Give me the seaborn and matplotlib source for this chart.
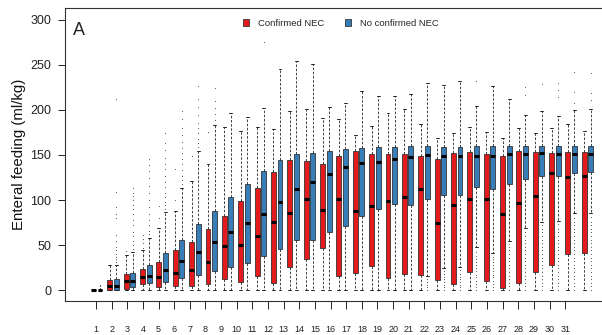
import numpy as np
import matplotlib
matplotlib.use("Agg")
import matplotlib.pyplot as plt
from matplotlib.patches import Patch
import seaborn as sns

# Days on the x axis
days = list(range(1, 32))

# Confirmed NEC (red): box stats per day
nec_q1 = [0, 0, 1.5, 6.3, 3, 4.8, 4.8, 6.3, 11.9, 9.3, 15.6, 8, 26, 35, 47, 15.6,
          18.5, 26.7, 13, 17.4, 16.3, 11.1, 6.7, 20, 10, 1.9, 7.4, 19.6, 27.8, 40, 40.7]
nec_med = [0, 4.8, 10, 14, 14.4, 18.5, 22.6, 31.5, 49, 50, 60, 76, 86, 100.7, 89, 100.7,
           87.8, 93, 98.5, 103, 111.9, 74.4, 94.1, 100.7, 100.7, 84.8, 96.3, 104.4, 130.4, 125.9, 126.7]
nec_q3 = [0, 11, 17.8, 22.9, 31, 44, 53, 67.8, 82.2, 99, 113.7, 130.7, 144.8, 143.7, 140, 149,
          154.4, 151.5, 150.7, 151, 149, 145.2, 151.9, 153.3, 151.1, 148.5, 154.8, 153.7, 152.2, 153.7, 153]
nec_lo = [0] * 31
nec_hi = [0, 27.8, 38.9, 44.4, 68.5, 87.8, 121, 139.6, 180.7, 177, 180.7, 178.5, 199, 201, 191.5, 190,
          172, 182, 196.7, 201.5, 184.8, 169.3, 174.1, 181.1, 175.6, 169.3, 180.4, 174.1, 180.4, 184, 176.7]
nec_out = [[], [], [43], [47, 52, 57, 61], [80, 93.7], [100, 134], [149], [176]] + [[] for _ in range(23)]

# No confirmed NEC (blue)
ctl_q1 = [0, 0, 3.7, 7.4, 9.3, 13.7, 17, 21, 26, 29.6, 37.8, 45.6, 55.6, 55.6, 64, 71,
          82, 90, 95.6, 95, 100.7, 105.2, 105.2, 114, 112.2, 117.8, 123.3, 126.3, 127, 130, 130.7]
ctl_med = [0, 4.8, 10, 15.2, 22.2, 32.2, 42, 52.9, 64, 74, 85, 98, 112, 120, 129, 136.7,
           141.5, 142.6, 145.6, 147.4, 150, 148.5, 148.5, 149.3, 149.3, 151.5, 151.1, 151.9, 151.5, 151.5, 150.7]
ctl_q3 = [0, 11.9, 19.3, 27.8, 40.7, 55.6, 73, 87.8, 103, 118.1, 132, 144, 151, 152.6, 154.4, 156.7,
          157.8, 158.9, 158.9, 159.6, 160, 159.3, 159.3, 160.4, 160, 160.4, 160.4, 160.4, 160.4, 160.4, 160.4]
ctl_lo = [0] * 20 + [15.6, 24.8, 25.9, 47.4, 40.7, 54.8, 68.5, 75.9, 77, 86, 86]
ctl_hi = [0, 27.8, 41.9, 58.1, 86.3, 113.7, 154, 183, 196.7, 192, 202, 246, 254, 250.7, 203.7, 207.4,
          220.7, 215, 216, 217.4, 229.6, 227.4, 232.2, 204, 226.3, 212.6, 194.4, 198.5, 193, 200, 200.7]
ctl_out = [
    [2, 4, 6],
    [31, 34, 37, 40, 44, 48, 55, 61, 79.6, 85, 92.6, 108.5, 211.8],
    [46, 50, 55, 60, 65, 72, 78, 85, 90, 95, 100, 104, 108, 113],
    [62, 66, 72, 78, 85, 92, 100, 108, 116, 124, 132, 139, 146],
    [90, 94, 98, 103, 108, 114, 120, 127, 134, 140, 147, 155, 163, 174],
    [118, 122, 127, 133, 140, 146, 152, 158, 164, 172, 180, 190, 199],
    [159, 163, 168, 174, 180, 186, 194, 203, 212, 227],
    [189, 195, 202, 210, 224],
    [], [], [276], [], [], [], [], [], [], [], [], [],
    [0, 3, 6, 9, 12],
    [0, 3, 6, 9, 12, 15, 18, 21],
    [0, 3, 6, 9, 12, 15, 18, 22],
    [0, 3, 7, 10, 14, 17, 21, 24, 28, 31, 35, 38, 42, 232],
    [0, 3, 7, 10, 14, 17, 21, 24, 28, 31, 35, 37],
    [0, 4, 8, 12, 16, 20, 24, 28, 32, 36, 40, 44, 48, 51],
    [0, 4, 8, 12, 16, 20, 24, 28, 32, 36, 40, 44, 48, 52, 56, 60, 64, 217, 226],
    [0, 4, 8, 12, 16, 20, 24, 28, 32, 36, 40, 44, 48, 52, 56, 60, 64, 68, 72, 228.5],
    [0, 4, 8, 12, 16, 20, 24, 28, 32, 36, 40, 44, 48, 52, 56, 60, 64, 68, 73, 214.8, 222, 229.6],
    [0, 4, 8, 12, 16, 20, 24, 28, 32, 36, 40, 44, 48, 52, 56, 60, 64, 68, 72, 76, 80, 207.4, 220, 242.6],
    [0, 4, 8, 12, 16, 20, 24, 28, 32, 36, 40, 44, 48, 52, 56, 60, 64, 68, 72, 76, 81, 211, 218.5, 240.7],
]

red = "#E41A1C"
blue = "#377EB8"

sns.set_style("ticks")
plt.rcParams["font.family"] = ["Liberation Sans", "DejaVu Sans"]


def make_stats(q1, med, q3, lo, hi, out):
    return [dict(q1=a, med=b, q3=c, whislo=d, whishi=e, fliers=f)
            for a, b, c, d, e, f in zip(q1, med, q3, lo, hi, out)]


fig = plt.figure(figsize=(6.02, 3.35), dpi=100)
ax = fig.add_axes([65 / 602, 34 / 335, 545 / 602, 293 / 335])

common = dict(
    widths=0.3, patch_artist=True, manage_ticks=False, capwidths=0.18,
    medianprops=dict(color="black", linewidth=2.2, solid_capstyle="butt"),
    whiskerprops=dict(color="#222222", linestyle=(0, (3, 2)), linewidth=0.6),
    capprops=dict(color="#222222", linewidth=0.7),
    flierprops=dict(marker=".", markersize=1.6, markerfacecolor="#555555",
                    markeredgecolor="none", linestyle="none"),
)

ax.bxp(make_stats(nec_q1, nec_med, nec_q3, nec_lo, nec_hi, nec_out),
       positions=[d - 0.2 for d in days],
       boxprops=dict(facecolor=red, edgecolor="#333333", linewidth=0.6), **common)
ax.bxp(make_stats(ctl_q1, ctl_med, ctl_q3, ctl_lo, ctl_hi, ctl_out),
       positions=[d + 0.2 for d in days],
       boxprops=dict(facecolor=blue, edgecolor="#333333", linewidth=0.6), **common)

ax.set_xlim(-0.941, 32.37)
ax.set_ylim(-12.2, 313.3)
ax.set_yticks(range(0, 301, 50))
# axis labels in the original sit on a slightly tighter grid than the boxes
ax.set_xticks([0.951 + 0.956 * (d - 1) for d in days], labels=[str(d) for d in days])
ax.tick_params(axis="x", length=6, width=0.7, pad=11, labelsize=6.5, colors="#222222")
ax.tick_params(axis="y", length=5, width=0.7, pad=5, labelsize=9, colors="#222222")
for s in ax.spines.values():
    s.set_linewidth(0.8)
    s.set_color("#333333")

fig.text(19 / 602, 1 - 154 / 335, "Enteral feeding (ml/kg)", rotation=90,
         ha="center", va="center", fontsize=10.8, color="#111111")
fig.text(73 / 602, 1 - 35 / 335, "A", fontsize=13, ha="left", va="baseline")

handles = [Patch(facecolor=red, edgecolor="#333333", linewidth=0.6, label="Confirmed NEC"),
           Patch(facecolor=blue, edgecolor="#333333", linewidth=0.6, label="No confirmed NEC")]
fig.legend(handles=handles, loc="center", bbox_to_anchor=(341 / 602, 1 - 23.5 / 335),
           ncol=2, frameon=False, fontsize=6.8, handlelength=0.65, handleheight=0.75,
           handletextpad=0.95, columnspacing=2.2, borderpad=0, borderaxespad=0)

fig.savefig("out.png", dpi=100)
